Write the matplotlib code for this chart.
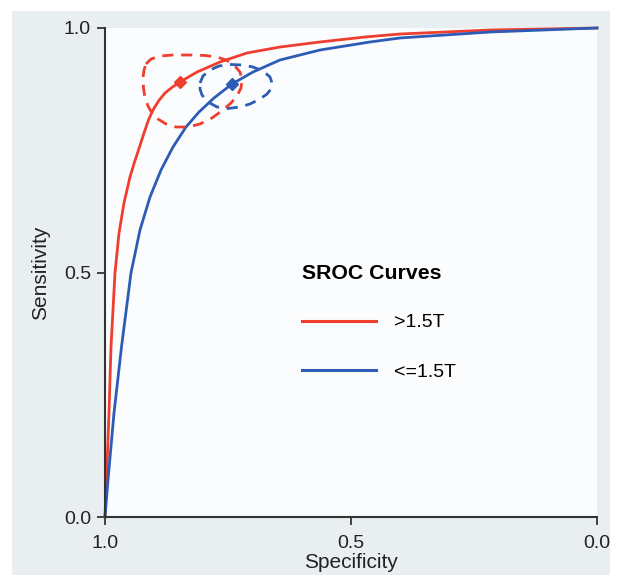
import matplotlib.pyplot as plt
from matplotlib.patches import Rectangle

plt.rcParams['font.family'] = ['Liberation Sans', 'DejaVu Sans']

# ---- SROC curves (specificity, sensitivity) ----
red_spec = [1.0, 0.9970, 0.9919, 0.9878, 0.9797, 0.9715, 0.9614, 0.9492, 0.9400,
            0.9299, 0.9207, 0.9116, 0.9024, 0.8913, 0.8780, 0.8628, 0.8476,
            0.8130, 0.7663, 0.7114, 0.6443, 0.5630, 0.4715, 0.4004, 0.2175, 0.0]
red_sens = [0.0, 0.0757, 0.2127, 0.3476, 0.4990, 0.5808, 0.6421, 0.6953, 0.7260,
            0.7566, 0.7853, 0.8119, 0.8323, 0.8507, 0.8671, 0.8793, 0.8896,
            0.9100, 0.9305, 0.9489, 0.9611, 0.9714, 0.9816, 0.9877, 0.9959, 1.0]

blue_spec = [1.0, 0.9939, 0.9817, 0.9665, 0.9472, 0.9289, 0.9085, 0.8862, 0.8618,
             0.8354, 0.8089, 0.7785, 0.7419, 0.6992, 0.6443, 0.5630, 0.4614,
             0.4004, 0.2175, 0.0]
blue_sens = [0.0, 0.0757, 0.2127, 0.3476, 0.4990, 0.5869, 0.6544, 0.7096, 0.7566,
             0.7975, 0.8282, 0.8569, 0.8855, 0.9100, 0.9346, 0.9550, 0.9714,
             0.9796, 0.9918, 1.0]

# ---- summary points ----
red_point = (0.8476, 0.8896)
blue_point = (0.7419, 0.8855)

# ---- confidence regions ----
red_ci_spec = [0.9167, 0.9065, 0.8882, 0.8618, 0.8272, 0.7968, 0.7724, 0.7541,
               0.7378, 0.7256, 0.7215, 0.7236, 0.7317, 0.7439, 0.7602, 0.7825,
               0.8069, 0.8313, 0.8557, 0.8760, 0.8923, 0.9045, 0.9126, 0.9187,
               0.9218, 0.9228, 0.9207, 0.9167]
red_ci_sens = [0.9264, 0.9366, 0.9427, 0.9448, 0.9448, 0.9438, 0.9407, 0.9346,
               0.9243, 0.9100, 0.8937, 0.8773, 0.8609, 0.8466, 0.8323, 0.8160,
               0.8037, 0.7975, 0.7975, 0.8037, 0.8139, 0.8262, 0.8405, 0.8569,
               0.8773, 0.8978, 0.9141, 0.9264]

blue_ci_spec = [0.8069, 0.8008, 0.7866, 0.7683, 0.7459, 0.7215, 0.6992, 0.6789,
                0.6646, 0.6606, 0.6626, 0.6707, 0.6850, 0.7053, 0.7256, 0.7500,
                0.7724, 0.7907, 0.8029, 0.8069, 0.8069]
blue_ci_sens = [0.8875, 0.9018, 0.9141, 0.9223, 0.9254, 0.9243, 0.9202, 0.9121,
                0.8998, 0.8875, 0.8753, 0.8650, 0.8548, 0.8446, 0.8385, 0.8354,
                0.8385, 0.8487, 0.8630, 0.8753, 0.8875]

labels = [">1.5T", "<=1.5T"]
RED = "#ef3e2e"
BLUE = "#2d5cb6"

fig = plt.figure(figsize=(6.2, 5.86), dpi=100, facecolor="white")
bg = Rectangle((12 / 620, 11 / 586), 598 / 620, 564 / 586,
               transform=fig.transFigure, facecolor="#e9eff1",
               edgecolor="none", zorder=-10)
fig.add_artist(bg)
ax = fig.add_axes([105 / 620, 69 / 586, 492 / 620, 489 / 586])
ax.set_facecolor("#fbfcfd")

# ---- curves ----
ax.plot(red_spec, red_sens, color=RED, lw=2, label=labels[0], clip_on=False,
        solid_joinstyle="round")
ax.plot(blue_spec, blue_sens, color=BLUE, lw=2, label=labels[1], clip_on=False,
        solid_joinstyle="round")

# ---- confidence regions ----
ax.plot(red_ci_spec, red_ci_sens, color=RED, lw=2, dashes=(4, 2.8))
ax.plot(blue_ci_spec, blue_ci_sens, color=BLUE, lw=2, dashes=(4, 2.8))

# ---- summary points ----
ax.plot(*red_point, marker="D", ms=6.5, color=RED)
ax.plot(*blue_point, marker="D", ms=6.5, color=BLUE)

ax.set_xlim(1.0, 0.0)
ax.set_ylim(0.0, 1.0)
ax.set_xticks([1.0, 0.5, 0.0])
ax.set_yticks([0.0, 0.5, 1.0])
ax.set_xticklabels(["1.0", "0.5", "0.0"])
ax.set_yticklabels(["0.0", "0.5", "1.0"])
ax.tick_params(direction="out", length=6, width=1.3, color="#333333",
               labelsize=14, labelcolor="#222222")
ax.tick_params(axis="x", pad=7)
ax.tick_params(axis="y", pad=4)
for side in ["top", "right"]:
    ax.spines[side].set_visible(False)
for side in ["left", "bottom"]:
    ax.spines[side].set_linewidth(1.5)
    ax.spines[side].set_color("#333333")

ax.set_xlabel("Specificity", fontsize=15, color="#222222", labelpad=1)
ax.set_ylabel("Sensitivity", fontsize=15, color="#222222", labelpad=10)

# ---- legend ----
leg = ax.legend(loc="upper left", bbox_to_anchor=(0.40, 0.517), frameon=False,
                title="SROC Curves", alignment="left", fontsize=14,
                title_fontproperties={"weight": "bold", "size": 15.3},
                handlelength=3.8, handletextpad=0.95, labelspacing=1.65,
                borderpad=0, borderaxespad=0)
for line in leg.get_lines():
    line.set_linewidth(2.2)
leg._legend_box.sep = 22

fig.savefig("out.png", dpi=100, facecolor=fig.get_facecolor())
